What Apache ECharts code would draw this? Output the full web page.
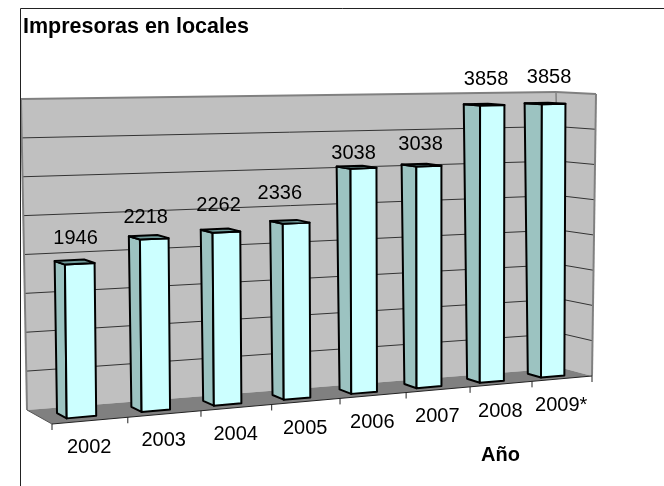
<!DOCTYPE html>
<html>
<head>
<meta charset="utf-8">
<style>html,body{margin:0;padding:0;background:#fff}#c{width:664px;height:486px}</style>
<script src="https://cdn.jsdelivr.net/npm/echarts@6/dist/echarts.min.js"></script>
</head>
<body>
<div id="c"></div>
<script>
const categories = ['2002','2003','2004','2005','2006','2007','2008','2009*'];
const values = [1946,2218,2262,2336,3038,3038,3858,3858];
const gridValues = [500,1000,1500,2000,2500,3000,3500];
const titleText = 'Impresoras en locales';
const axisName = 'Año';

/* layout of the tilted 3D box the plain grid is projected on */
const BOX = {
  backBL:[27,410], backBR:[562,368], backTL:[21,99], backTR:[556,92],
  frontBL:[52,424], frontBR:[592,376], frontTL:[49,104], frontTR:[596,94]
};
const labelNudge = [[1,24],[-3,20],[-2,25],[-10,28],[-3,14],[-1,21],[2,25],[4,26]];
const FONT = '20px "Liberation Sans", Arial, sans-serif';
const mix = (a,b,t)=>[a[0]+(b[0]-a[0])*t, a[1]+(b[1]-a[1])*t];
const warp = s => s*1.143/(1+0.143*s);
function project(s,v,d){
  const t = warp(s);
  const fb = mix(BOX.frontBL,BOX.frontBR,t), ft = mix(BOX.frontTL,BOX.frontTR,t);
  const bb = mix(BOX.backBL,BOX.backBR,t), bt = mix(BOX.backTL,BOX.backTR,t);
  return mix(mix(fb,ft,v), mix(bb,bt,v), d);
}
const poly = (points,fill,stroke,lw,z)=>({type:'polygon',z2:z||0,shape:{points},style:{fill,stroke:stroke||null,lineWidth:lw||0,lineJoin:'round'}});
const seg = (a,b,stroke,lw,z)=>({type:'line',z2:z||0,shape:{x1:a[0],y1:a[1],x2:b[0],y2:b[1]},style:{stroke,lineWidth:lw}});
const norm = (api,cs,x,y)=>{
  const c = api.coord([x,y]);
  return [(c[0]-cs.x)/cs.width,(cs.y+cs.height-c[1])/cs.height];
};

function renderBox(params,api){
  const cs = params.coordSys, kids = [];
  const wallStroke = '#808080';
  kids.push(poly([project(0,1,1),project(1,1,1),project(1,0,1),project(0,0,1)],'#c0c0c0'));
  kids.push(poly([project(1,1,1),project(1,1,0),project(1,0,0),project(1,0,1)],'#c0c0c0'));
  kids.push(poly([project(0,0,1),project(1,0,1),project(1,0,0),project(0,0,0)],'#808080'));
  gridValues.forEach(g=>{
    const v = norm(api,cs,0,g)[1];
    kids.push(seg(project(0,v,1),project(1,v,1),'#333333',1));
    kids.push(seg(project(1,v,1),project(1,v,0),'#333333',1));
  });
  kids.push(seg(project(0,1,1),project(0,0,1),wallStroke,2));
  kids.push(seg(project(0,1,1),project(1,1,1),wallStroke,2));
  kids.push(seg(project(1,1,1),project(1,0,1),wallStroke,1.5));
  kids.push(seg(project(1,1,1),project(1,1,0),wallStroke,2));
  kids.push(seg(project(1,1,0),project(1,0,0),wallStroke,2));
  kids.push(seg(project(0,0,1),project(0,0,0),'#555555',1));
  kids.push(seg(project(0,0,0),project(1,0,0),'#222222',1));
  for(let i=0;i<=categories.length;i++){
    const p = project(i/categories.length,0,0);
    kids.push(seg(p,[p[0],p[1]+6],'#222222',1));
  }
  return {type:'group',children:kids};
}

function renderBar(params,api){
  const cs = params.coordSys;
  const i = api.value(0), val = api.value(1);
  const [sc,v] = norm(api,cs,i,val);
  const bw = api.size([1,0])[0]/cs.width;
  const left = sc-bw/2;
  const sL = left+0.28*bw, sR = left+0.67*bw;
  const dF = 0.27, dB = 0.65+0.07*sc;
  const a = project(sL,0,dF), b = project(sR,0,dF), c = project(sR,v,dF), e = project(sL,v,dF);
  const a2 = project(sL,0,dB), e2 = project(sL,v,dB), c2 = project(sR,v,dB);
  const mid = project((sL+sR)/2,v,(dF+dB)/2);
  const n = labelNudge[i];
  const kids = [
    poly([a2,a,e,e2],'#9cc3c1','#000',2),
    poly([a,b,c,e],'#ccffff','#000',2),
    poly([e,c,c2,e2],'#6f9a99','#000',2),
    {type:'text',z2:5,style:{text:String(val),x:mid[0]+n[0],y:mid[1]-n[1],fill:'#000',font:FONT,align:'center',verticalAlign:'middle'}}
  ];
  const p = project((i+0.5)/categories.length,0,0);
  kids.push({type:'text',z2:5,style:{text:categories[i],x:p[0]-1,y:p[1]+27,fill:'#000',font:FONT,align:'center',verticalAlign:'middle'}});
  return {type:'group',children:kids};
}

const chart = echarts.init(document.getElementById('c'),null,{renderer:'canvas'});
chart.setOption({
  animation:false,
  backgroundColor:'#ffffff',
  grid:{left:20,right:20,top:90,bottom:60},
  xAxis:{type:'category',data:categories,show:false},
  yAxis:{type:'value',min:0,max:4000,interval:500,show:false},
  title:[
    {text:titleText,left:23,top:16,textStyle:{fontFamily:'"Liberation Sans", Arial, sans-serif',fontSize:21.5,fontWeight:'bold',color:'#000'},padding:0},
    {text:axisName,left:481,top:445,textStyle:{fontFamily:'"Liberation Sans", Arial, sans-serif',fontSize:20,fontWeight:'bold',color:'#000'},padding:0}
  ],
  graphic:[
    {type:'line',z:10,shape:{x1:20.5,y1:8.5,x2:664,y2:8.5},style:{stroke:'#222',lineWidth:1}},
    {type:'line',z:10,shape:{x1:20.5,y1:8.5,x2:20.5,y2:486},style:{stroke:'#222',lineWidth:1}}
  ],
  series:[
    {type:'custom',name:'box',coordinateSystem:'cartesian2d',clip:false,silent:true,z:1,renderItem:renderBox,data:[[0,0]]},
    {type:'custom',name:'Impresoras',coordinateSystem:'cartesian2d',clip:false,silent:true,z:2,renderItem:renderBar,
      data:values.map((v,i)=>[i,v])}
  ]
});
</script>
</body>
</html>
